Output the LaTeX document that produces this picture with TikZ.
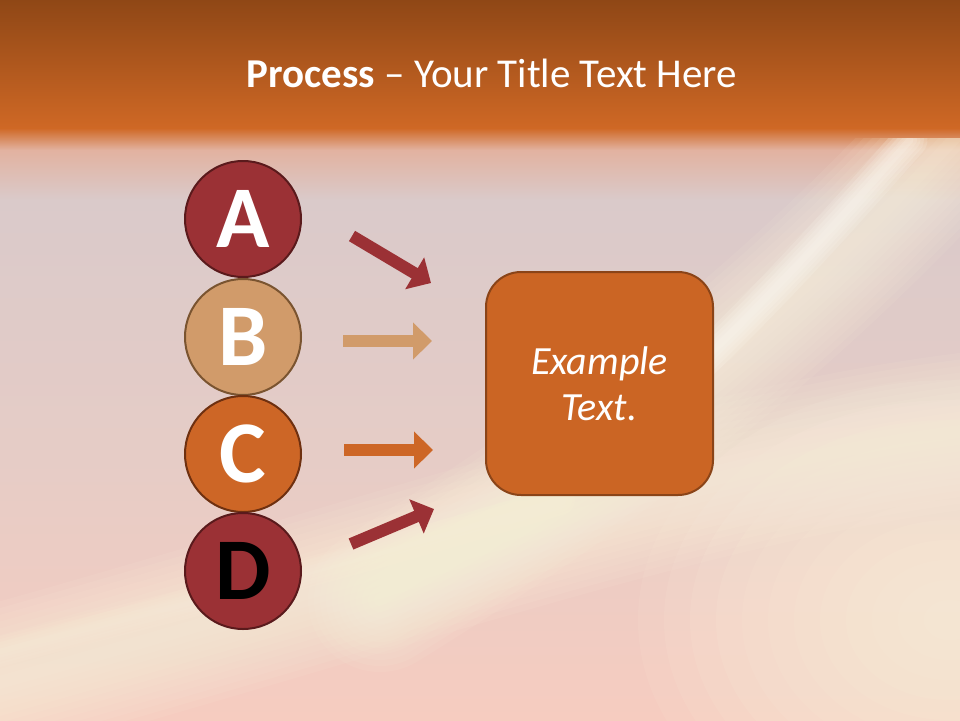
\documentclass[tikz,border=0pt]{standalone}
\usepackage{fontspec}
\setmainfont{Carlito}
\usetikzlibrary{arrows.meta}
\definecolor{bandtop}{HTML}{8F4716}
\definecolor{bandbot}{HTML}{CF6825}
\definecolor{fadeA}{HTML}{E2B2A0}
\definecolor{bgA}{HTML}{DACACA}
\definecolor{bgB}{HTML}{E6CCC6}
\definecolor{bgC}{HTML}{F6CCC0}
\definecolor{cream}{HTML}{FFF8E0}
\definecolor{whitish}{HTML}{FFFDF6}
\definecolor{redfill}{HTML}{9B3135}
\definecolor{redline}{HTML}{5A1A1C}
\definecolor{tanfill}{HTML}{D19B6A}
\definecolor{tanline}{HTML}{7A5430}
\definecolor{orfill}{HTML}{CD6626}
\definecolor{orline}{HTML}{6E3010}
\definecolor{boxfill}{HTML}{CB6524}
\definecolor{boxline}{HTML}{8A4418}
\tikzset{
  letter/.style={circle, minimum size=116pt, inner sep=0pt, line width=2pt,
    font=\fontsize{88}{88}\selectfont\bfseries},
  arrowline/.style={line width=12pt, -{Triangle[length=19pt,width=36pt]}},
  streak/.style={cream, line cap=round}
}
\begin{document}
\begin{tikzpicture}[x=1pt,y=-1pt]
\useasboundingbox (0,0) rectangle (960,720);
% background
\shade[top color=bgA, bottom color=bgC, middle color=bgB] (0,200) rectangle (960,720);
\shade[top color=bandbot, bottom color=fadeA] (0,128) rectangle (960,150);
\shade[top color=fadeA, bottom color=bgA] (0,150) rectangle (960,200);
\begin{scope}
\clip (0,138) rectangle (960,720);
% bottom-right glow
\foreach \i in {1,...,12}{
  \fill[cream, opacity=0.09] (950,620) ellipse ({26*\i pt} and {20*\i pt});
}
% broad lower sweep
\foreach \i in {1,...,12}{
  \draw[streak, line width=\i*13pt, opacity=0.075] (1100,420) .. controls (780,430) and (450,560) .. (-100,710);
}
% thin lower-left light curve
\foreach \i in {1,...,5}{
  \draw[streak, line width=\i*6pt, opacity=0.08] (-50,665) .. controls (150,610) and (300,580) .. (560,500);
}
% upper diagonal streak
\foreach \i in {1,...,12}{
  \draw[streak, line width=\i*12pt, opacity=0.075] (1000,90) .. controls (860,240) and (720,390) .. (380,600);
}
\foreach \i in {1,...,5}{
  \draw[whitish, line cap=round, line width=\i*7pt, opacity=0.15] (910,140) .. controls (830,230) and (760,310) .. (640,420);
}
\end{scope}
\shade[top color=bandtop, bottom color=bandbot] (0,0) rectangle (960,128);
% title
\node[text=white, anchor=base, inner sep=0pt, font=\fontsize{41}{41}\selectfont] (title) at (492,87) {\textbf{Process} – Your Title Text Here};
% circles
\node[letter, fill=redfill, draw=redline, text=white] (A) at (243,219) {A};
\node[letter, fill=tanfill, draw=tanline, text=white] (B) at (243,337) {B};
\node[letter, fill=orfill, draw=orline, text=white] (C) at (243,454) {C};
\node[letter, fill=redfill, draw=redline, text=black] (D) at (243,571) {D};
% box
\node[rectangle, rounded corners=35pt, minimum width=227pt, minimum height=223pt,
  fill=boxfill, draw=boxline, line width=2pt, text=white, align=center,
  font=\fontsize{40}{46}\selectfont\itshape] (box) at (599.5,383.5) {Example\\Text.};
% arrow endpoints
\coordinate (a1) at (352,236); \coordinate (a2) at (431,283);
\coordinate (b1) at (343,341); \coordinate (b2) at (432,341);
\coordinate (c1) at (344,450); \coordinate (c2) at (433,450);
\coordinate (d1) at (351,544); \coordinate (d2) at (434,509);
\draw[arrowline, redfill] (a1) -- (a2);
\draw[arrowline, tanfill] (b1) -- (b2);
\draw[arrowline, orfill] (c1) -- (c2);
\draw[arrowline, redfill] (d1) -- (d2);
\end{tikzpicture}
\end{document}
